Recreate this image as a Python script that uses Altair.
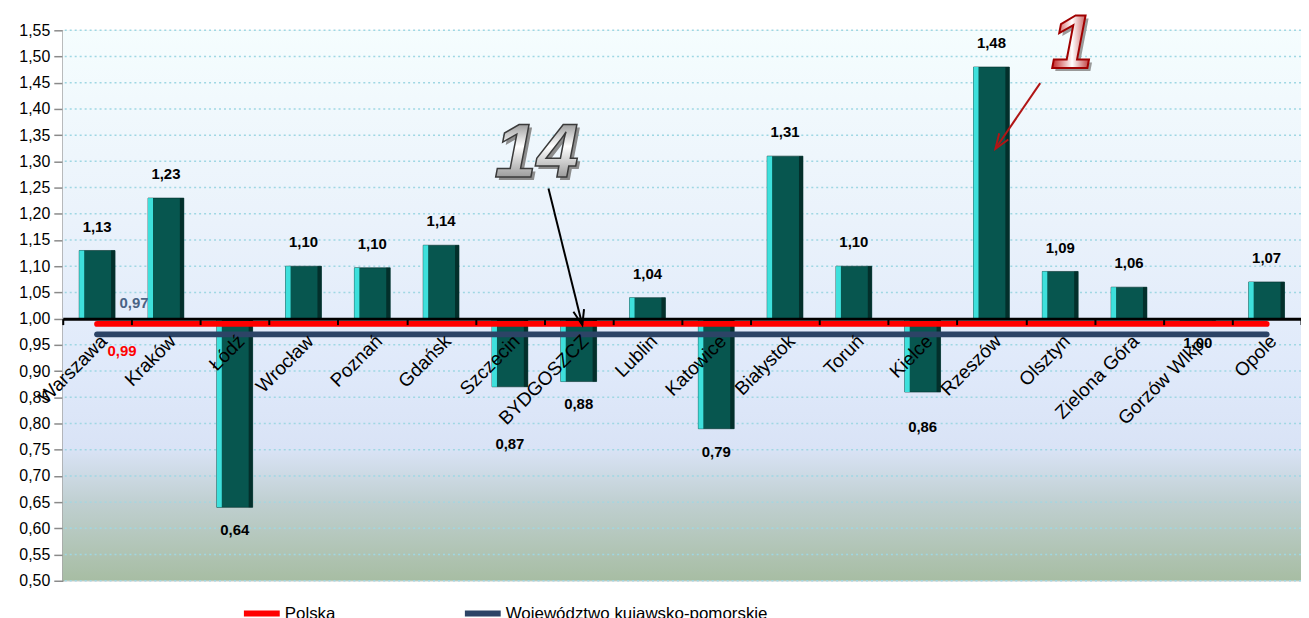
import altair as alt
import pandas as pd

# ---------------- data ----------------
cities = ["Warszawa", "Kraków", "Łódź", "Wrocław", "Poznań", "Gdańsk", "Szczecin",
          "BYDGOSZCZ", "Lublin", "Katowice", "Białystok", "Toruń", "Kielce",
          "Rzeszów", "Olsztyn", "Zielona Góra", "Gorzów Wlkp.", "Opole"]
values = [1.13, 1.23, 0.64, 1.10, 1.097, 1.14, 0.87, 0.88, 1.04, 0.79, 1.31,
          1.10, 0.86, 1.48, 1.09, 1.06, 0.997, 1.07]
series_names = ["Polska", "Województwo kujawsko-pomorskie"]
series_levels = [0.99, 0.97]
y_ticks = [0.50, 0.55, 0.60, 0.65, 0.70, 0.75, 0.80, 0.85, 0.90, 0.95, 1.00,
           1.05, 1.10, 1.15, 1.20, 1.25, 1.30, 1.35, 1.40, 1.45, 1.50, 1.55]
baseline = 1.0

def pl(v):
    return f"{v:.2f}".replace(".", ",")

bars = pd.DataFrame({"city": cities, "v": values, "base": baseline,
                     "label": [pl(v) for v in values]})
lines = pd.DataFrame([{"city": c, "series": s, "v": lv}
                      for s, lv in zip(series_names, series_levels) for c in cities])
line_labels = pd.DataFrame({"city": cities[0], "series": series_names, "v": series_levels,
                            "label": [pl(v) for v in series_levels]})
grid = pd.DataFrame({"v": y_ticks})

W, H = 1244, 553
FONT = "Liberation Sans, Arial, sans-serif"
YMIN, YMAX = 0.50, 1.55

xs = alt.Scale(domain=cities, paddingInner=0, paddingOuter=0)
ys = alt.Scale(domain=[YMIN, YMAX], nice=False, zero=False)
axis_offset = -(baseline - YMIN) / (YMAX - YMIN) * H

x_axis = alt.Axis(orient="bottom", offset=axis_offset, tickBand="extent",
                  labelAngle=-45, labelFont=FONT, labelFontSize=19,
                  labelColor="black", labelPadding=7, labelOverlap=False,
                  domainColor="black", domainWidth=3,
                  tickColor="black", tickWidth=2, tickSize=6,
                  grid=False, zindex=1, title=None)
y_axis = alt.Axis(values=y_ticks, tickCount=len(y_ticks),
                  labelExpr="replace(format(datum.value, '.2f'), '.', ',')",
                  labelFont=FONT, labelFontSize=16, labelColor="black", labelOverlap=False,
                  labelPadding=4, tickSize=9, tickColor="#8a8a8a", tickWidth=1.5,
                  domainColor="#8a8a8a", domainWidth=2, grid=False, title=None)
XP = alt.X("city:N", scale=xs, sort=cities, axis=x_axis)
YP = alt.Y("v:Q", scale=ys, axis=y_axis)

bg_grad = alt.LinearGradient(gradient="linear", x1=0, y1=0, x2=0, y2=1, stops=[
    alt.GradientStop(color="#F5FDFE", offset=0),
    alt.GradientStop(color="#EAF2FB", offset=0.35),
    alt.GradientStop(color="#DFE9FA", offset=0.62),
    alt.GradientStop(color="#D9E3F6", offset=0.76),
    alt.GradientStop(color="#BFCFD0", offset=0.86),
    alt.GradientStop(color="#A7BDA3", offset=1.0),
])
background = alt.Chart(alt.Data(values=[{"a": 1}])).mark_rect(color=bg_grad).encode(
    x=alt.value(0), x2=alt.value(W), y=alt.value(0), y2=alt.value(H))

grid_lines = alt.Chart(grid).mark_rule(color="#9FD7E3", strokeWidth=1.5, strokeDash=[2, 3]).encode(
    y=YP)

base = alt.Chart(bars)
bar_main = base.mark_bar(width=36, color="#07564F", stroke="#03302C", strokeWidth=0.6).encode(
    x=XP, y=YP, y2="base:Q")
bar_left = base.mark_bar(width=5, xOffset=-15.5, color="#3EE0DC").encode(x=XP, y=YP, y2="base:Q")
bar_right = base.mark_bar(width=4, xOffset=16, color="#032F2B").encode(x=XP, y=YP, y2="base:Q")

lab_kw = dict(font=FONT, fontSize=15, fontWeight="bold", color="black", baseline="middle")
pos_labels = base.transform_filter("datum.v >= 1").mark_text(dy=-24, **lab_kw).encode(
    x=XP, y=YP, text="label:N")
# data-label nudges as placed in the original chart
neg_default = base.transform_filter(
    "datum.v < 1 && datum.city != 'Szczecin' && datum.city != 'Kielce'").mark_text(
    dy=23, **lab_kw).encode(x=XP, y=YP, text="label:N")
neg_szc = base.transform_filter("datum.city == 'Szczecin'").mark_text(dy=58, **lab_kw).encode(
    x=XP, y=YP, text="label:N")
neg_kie = base.transform_filter("datum.city == 'Kielce'").mark_text(dy=35, **lab_kw).encode(
    x=XP, y=YP, text="label:N")

line_layer = alt.Chart(lines).mark_line(strokeWidth=6, strokeCap="round").encode(
    x=XP, y=YP,
    color=alt.Color("series:N", scale=alt.Scale(domain=series_names, range=["#FF0000", "#2C4466"]),
                    legend=alt.Legend(orient="none", legendX=179, legendY=565, direction="horizontal",
                                      title=None, symbolType="stroke", symbolSize=1296,
                                      symbolStrokeWidth=6, labelFont=FONT, labelFontSize=17,
                                      labelColor="black", labelOffset=2, columnPadding=117,
                                      labelLimit=500, padding=0)))

ll = alt.Chart(line_labels)
lbl_pl = ll.transform_filter(alt.datum.series == series_names[0]).mark_text(
    dx=25, dy=27, font=FONT, fontSize=15, fontWeight="bold", color="#FF0000").encode(
    x=XP, y=YP, text="label:N")
lbl_kp = ll.transform_filter(alt.datum.series == series_names[1]).mark_text(
    dx=37, dy=-31, font=FONT, fontSize=15, fontWeight="bold", color="#4A6385").encode(
    x=XP, y=YP, text="label:N")

# ---------------- annotations ----------------
one = alt.Data(values=[{"a": 1}])
silver = alt.LinearGradient(gradient="linear", x1=0, y1=0, x2=0, y2=1, stops=[
    alt.GradientStop(color="#5a5a5a", offset=0),
    alt.GradientStop(color="#ffffff", offset=0.45),
    alt.GradientStop(color="#6a6a6a", offset=1)])
redg = alt.LinearGradient(gradient="linear", x1=0, y1=0, x2=1, y2=0, stops=[
    alt.GradientStop(color="#C01818", offset=0),
    alt.GradientStop(color="#ffffff", offset=0.5),
    alt.GradientStop(color="#B01010", offset=1)])
ann_kw = dict(font=FONT, fontSize=76, fontStyle="italic", fontWeight="bold",
              align="center", baseline="middle")

t14_sh = alt.Chart(one).mark_text(text="14", color="#8c8c8c", **ann_kw).encode(
    x=alt.value(479), y=alt.value(127))
t14 = alt.Chart(one).mark_text(text="14", color=silver, stroke="#3a3a3a", strokeWidth=1.5, **ann_kw).encode(
    x=alt.value(476), y=alt.value(124))
a14 = alt.Chart(one).mark_rule(color="black", strokeWidth=2).encode(
    x=alt.value(488), y=alt.value(159), x2=alt.value(522), y2=alt.value(296))
h14 = alt.Chart(one).mark_point(shape="M -0.55 -1.5 L 0 0 L 0.55 -1.5", filled=False, size=400,
                                 angle=346, stroke="black", strokeWidth=2, opacity=1).encode(
    x=alt.value(522), y=alt.value(296))

t1_sh = alt.Chart(one).mark_text(text="1", color="#9a9a9a", **ann_kw).encode(
    x=alt.value(1017), y=alt.value(18))
t1 = alt.Chart(one).mark_text(text="1", color=redg, stroke="#A00000", strokeWidth=2, **ann_kw).encode(
    x=alt.value(1014), y=alt.value(15))
a1 = alt.Chart(one).mark_rule(color="#B01515", strokeWidth=2).encode(
    x=alt.value(982), y=alt.value(53), x2=alt.value(937), y2=alt.value(119))
h1 = alt.Chart(one).mark_point(shape="M -0.55 -1.5 L 0 0 L 0.55 -1.5", filled=False, size=400,
                                angle=34, stroke="#B01515", strokeWidth=2, opacity=1).encode(
    x=alt.value(937), y=alt.value(119))

chart = alt.layer(
    background, grid_lines, bar_main, bar_left, bar_right, line_layer,
    pos_labels, neg_default, neg_szc, neg_kie, lbl_pl, lbl_kp,
    t14_sh, t14, a14, h14, t1_sh, t1, a1, h1,
).resolve_scale(x="shared", y="shared").properties(
    width=W, height=H,
    autosize=alt.AutoSizeParams(type="none"),
    padding={"left": 55, "top": 21, "right": 0, "bottom": 36},
).configure_view(stroke=None).configure(background="white")

chart.save("out.html", embed_options={"renderer": "svg", "actions": False})
